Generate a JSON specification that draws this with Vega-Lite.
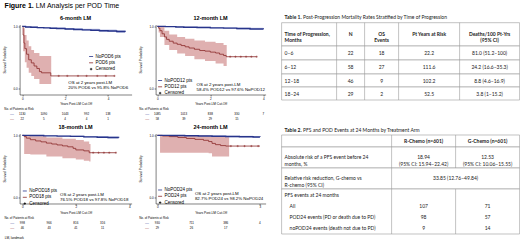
{
  "$schema": "https://vega.github.io/schema/vega-lite/v6.json",
  "padding": {"left": 1.6, "top": 1.5, "right": 0, "bottom": 0},
  "config": {
    "font": "Liberation Sans",
    "view": {"stroke": null},
    "axis": {"grid": false, "domainColor": "#000", "domainWidth": 0.5, "tickColor": "#000", "tickWidth": 0.5, "tickSize": 1.5, "labelFontSize": 3, "labelColor": "#000", "labelPadding": 1, "titleFontSize": 3.2, "titleFontWeight": "normal", "titleColor": "#000", "titlePadding": 1.5, "labelFlush": false, "labelOverlap": false},
    "axisY": {"titlePadding": 6.5},
    "title": {"fontSize": 5.5, "fontWeight": "bold", "color": "#000", "offset": 2},
    "text": {"color": "#000"},
    "legend": {"labelColor": "#000", "labelFont": "Liberation Sans"}
  },
  "datasets": {
    "l6": [
      {"g": "NoPOD6 pts", "t": 0, "s": 1}, {"g": "NoPOD6 pts", "t": 0.15, "s": 0.99}, {"g": "NoPOD6 pts", "t": 0.4, "s": 0.985}, {"g": "NoPOD6 pts", "t": 0.7, "s": 0.98}, {"g": "NoPOD6 pts", "t": 1.0, "s": 0.975}, {"g": "NoPOD6 pts", "t": 1.3, "s": 0.97}, {"g": "NoPOD6 pts", "t": 1.6, "s": 0.965}, {"g": "NoPOD6 pts", "t": 2.0, "s": 0.958}, {"g": "NoPOD6 pts", "t": 2.4, "s": 0.95}, {"g": "NoPOD6 pts", "t": 2.8, "s": 0.944}, {"g": "NoPOD6 pts", "t": 3.2, "s": 0.937}, {"g": "NoPOD6 pts", "t": 3.6, "s": 0.93}, {"g": "NoPOD6 pts", "t": 4.0, "s": 0.924}, {"g": "NoPOD6 pts", "t": 4.4, "s": 0.918}, {"g": "NoPOD6 pts", "t": 4.8, "s": 0.912},
      {"g": "POD6 pts", "t": 0, "s": 1}, {"g": "POD6 pts", "t": 0.04, "s": 0.86}, {"g": "POD6 pts", "t": 0.08, "s": 0.73}, {"g": "POD6 pts", "t": 0.12, "s": 0.64}, {"g": "POD6 pts", "t": 0.2, "s": 0.55}, {"g": "POD6 pts", "t": 0.3, "s": 0.46}, {"g": "POD6 pts", "t": 0.42, "s": 0.41}, {"g": "POD6 pts", "t": 0.55, "s": 0.36}, {"g": "POD6 pts", "t": 0.68, "s": 0.32}, {"g": "POD6 pts", "t": 0.8, "s": 0.27}, {"g": "POD6 pts", "t": 0.9, "s": 0.25}, {"g": "POD6 pts", "t": 1.33, "s": 0.2}, {"g": "POD6 pts", "t": 4.3, "s": 0.2}
    ],
    "b6": [
      {"g": "NoPOD6 pts", "t": 0, "lo": 1, "hi": 1}, {"g": "NoPOD6 pts", "t": 0.15, "lo": 0.982, "hi": 0.997}, {"g": "NoPOD6 pts", "t": 0.7, "lo": 0.97, "hi": 0.99}, {"g": "NoPOD6 pts", "t": 1.3, "lo": 0.958, "hi": 0.982}, {"g": "NoPOD6 pts", "t": 2.0, "lo": 0.944, "hi": 0.972}, {"g": "NoPOD6 pts", "t": 2.8, "lo": 0.928, "hi": 0.96}, {"g": "NoPOD6 pts", "t": 3.6, "lo": 0.912, "hi": 0.948}, {"g": "NoPOD6 pts", "t": 4.4, "lo": 0.898, "hi": 0.938}, {"g": "NoPOD6 pts", "t": 4.8, "lo": 0.89, "hi": 0.934},
      {"g": "POD6 pts", "t": 0, "lo": 1, "hi": 1}, {"g": "POD6 pts", "t": 0.04, "lo": 0.6, "hi": 0.97}, {"g": "POD6 pts", "t": 0.12, "lo": 0.42, "hi": 0.86}, {"g": "POD6 pts", "t": 0.2, "lo": 0.33, "hi": 0.77}, {"g": "POD6 pts", "t": 0.3, "lo": 0.25, "hi": 0.68}, {"g": "POD6 pts", "t": 0.42, "lo": 0.2, "hi": 0.62}, {"g": "POD6 pts", "t": 0.55, "lo": 0.15, "hi": 0.57}, {"g": "POD6 pts", "t": 0.8, "lo": 0.07, "hi": 0.52}, {"g": "POD6 pts", "t": 1.35, "lo": 0.07, "hi": 0.52}
    ],
    "c6": [
      {"g": "POD6 pts", "t": 1.7, "s": 0.2}, {"g": "POD6 pts", "t": 2.1, "s": 0.2}, {"g": "POD6 pts", "t": 2.6, "s": 0.2}, {"g": "POD6 pts", "t": 3.0, "s": 0.2}, {"g": "POD6 pts", "t": 3.5, "s": 0.2}, {"g": "POD6 pts", "t": 3.9, "s": 0.2}, {"g": "POD6 pts", "t": 4.3, "s": 0.2}
    ],
    "r6": [
      {"row": "a", "t": 0, "n": "1130"}, {"row": "a", "t": 1, "n": "1090"}, {"row": "a", "t": 2, "n": "1043"}, {"row": "a", "t": 3, "n": "992"}, {"row": "a", "t": 4, "n": "138"},
      {"row": "b", "t": 0, "n": "22"}, {"row": "b", "t": 1, "n": "5"}, {"row": "b", "t": 2, "n": "4"}, {"row": "b", "t": 3, "n": "4"}, {"row": "b", "t": 4, "n": "1"}
    ],
    "l12": [
      {"g": "NoPOD12 pts", "t": 0, "s": 1}, {"g": "NoPOD12 pts", "t": 0.3, "s": 0.995}, {"g": "NoPOD12 pts", "t": 0.7, "s": 0.99}, {"g": "NoPOD12 pts", "t": 1.0, "s": 0.986}, {"g": "NoPOD12 pts", "t": 1.5, "s": 0.981}, {"g": "NoPOD12 pts", "t": 2.0, "s": 0.976}, {"g": "NoPOD12 pts", "t": 2.5, "s": 0.971}, {"g": "NoPOD12 pts", "t": 3.0, "s": 0.965}, {"g": "NoPOD12 pts", "t": 3.5, "s": 0.958}, {"g": "NoPOD12 pts", "t": 4.0, "s": 0.952},
      {"g": "POD12 pts", "t": 0, "s": 1}, {"g": "POD12 pts", "t": 0.05, "s": 0.97}, {"g": "POD12 pts", "t": 0.1, "s": 0.93}, {"g": "POD12 pts", "t": 0.18, "s": 0.88}, {"g": "POD12 pts", "t": 0.27, "s": 0.83}, {"g": "POD12 pts", "t": 0.35, "s": 0.79}, {"g": "POD12 pts", "t": 0.45, "s": 0.76}, {"g": "POD12 pts", "t": 0.6, "s": 0.73}, {"g": "POD12 pts", "t": 0.75, "s": 0.71}, {"g": "POD12 pts", "t": 0.9, "s": 0.69}, {"g": "POD12 pts", "t": 1.05, "s": 0.67}, {"g": "POD12 pts", "t": 1.2, "s": 0.65}, {"g": "POD12 pts", "t": 1.4, "s": 0.63}, {"g": "POD12 pts", "t": 1.6, "s": 0.61}, {"g": "POD12 pts", "t": 1.8, "s": 0.6}, {"g": "POD12 pts", "t": 2.0, "s": 0.584}, {"g": "POD12 pts", "t": 2.2, "s": 0.57}, {"g": "POD12 pts", "t": 2.35, "s": 0.55}, {"g": "POD12 pts", "t": 2.5, "s": 0.53}, {"g": "POD12 pts", "t": 2.6, "s": 0.51}, {"g": "POD12 pts", "t": 3.75, "s": 0.51}
    ],
    "b12": [
      {"g": "NoPOD12 pts", "t": 0, "lo": 1, "hi": 1}, {"g": "NoPOD12 pts", "t": 0.3, "lo": 0.988, "hi": 0.999}, {"g": "NoPOD12 pts", "t": 1.0, "lo": 0.977, "hi": 0.993}, {"g": "NoPOD12 pts", "t": 2.0, "lo": 0.965, "hi": 0.987}, {"g": "NoPOD12 pts", "t": 3.0, "lo": 0.95, "hi": 0.978}, {"g": "NoPOD12 pts", "t": 4.0, "lo": 0.935, "hi": 0.968},
      {"g": "POD12 pts", "t": 0, "lo": 1, "hi": 1}, {"g": "POD12 pts", "t": 0.05, "lo": 0.9, "hi": 1}, {"g": "POD12 pts", "t": 0.1, "lo": 0.83, "hi": 0.99}, {"g": "POD12 pts", "t": 0.27, "lo": 0.7, "hi": 0.93}, {"g": "POD12 pts", "t": 0.45, "lo": 0.62, "hi": 0.87}, {"g": "POD12 pts", "t": 0.75, "lo": 0.56, "hi": 0.83}, {"g": "POD12 pts", "t": 1.05, "lo": 0.52, "hi": 0.8}, {"g": "POD12 pts", "t": 1.4, "lo": 0.47, "hi": 0.77}, {"g": "POD12 pts", "t": 1.8, "lo": 0.44, "hi": 0.75}, {"g": "POD12 pts", "t": 2.2, "lo": 0.4, "hi": 0.73}, {"g": "POD12 pts", "t": 2.5, "lo": 0.36, "hi": 0.7}, {"g": "POD12 pts", "t": 2.62, "lo": 0.36, "hi": 0.7}
    ],
    "c12": [
      {"g": "POD12 pts", "t": 2.75, "s": 0.51}, {"g": "POD12 pts", "t": 2.95, "s": 0.51}, {"g": "POD12 pts", "t": 3.15, "s": 0.51}, {"g": "POD12 pts", "t": 3.35, "s": 0.51}, {"g": "POD12 pts", "t": 3.55, "s": 0.51}, {"g": "POD12 pts", "t": 3.75, "s": 0.51}
    ],
    "r12": [
      {"row": "a", "t": 0, "n": "1085"}, {"row": "a", "t": 1, "n": "1013"}, {"row": "a", "t": 2, "n": "838"}, {"row": "a", "t": 3, "n": "330"}, {"row": "a", "t": 4, "n": "7"},
      {"row": "b", "t": 0, "n": "58"}, {"row": "b", "t": 1, "n": "39"}, {"row": "b", "t": 2, "n": "29"}, {"row": "b", "t": 3, "n": "15"}
    ],
    "l18": [
      {"g": "NoPOD18 pts", "t": 0, "s": 1}, {"g": "NoPOD18 pts", "t": 0.3, "s": 0.997}, {"g": "NoPOD18 pts", "t": 0.8, "s": 0.992}, {"g": "NoPOD18 pts", "t": 1.3, "s": 0.988}, {"g": "NoPOD18 pts", "t": 1.8, "s": 0.983}, {"g": "NoPOD18 pts", "t": 2.3, "s": 0.976}, {"g": "NoPOD18 pts", "t": 2.8, "s": 0.97}, {"g": "NoPOD18 pts", "t": 3.2, "s": 0.965}, {"g": "NoPOD18 pts", "t": 3.6, "s": 0.96},
      {"g": "POD18 pts", "t": 0, "s": 1}, {"g": "POD18 pts", "t": 0.07, "s": 0.98}, {"g": "POD18 pts", "t": 0.15, "s": 0.955}, {"g": "POD18 pts", "t": 0.3, "s": 0.93}, {"g": "POD18 pts", "t": 0.5, "s": 0.91}, {"g": "POD18 pts", "t": 0.7, "s": 0.895}, {"g": "POD18 pts", "t": 0.9, "s": 0.875}, {"g": "POD18 pts", "t": 1.1, "s": 0.86}, {"g": "POD18 pts", "t": 1.3, "s": 0.845}, {"g": "POD18 pts", "t": 1.5, "s": 0.83}, {"g": "POD18 pts", "t": 1.7, "s": 0.815}, {"g": "POD18 pts", "t": 1.9, "s": 0.79}, {"g": "POD18 pts", "t": 2.0, "s": 0.765}, {"g": "POD18 pts", "t": 2.3, "s": 0.75}, {"g": "POD18 pts", "t": 2.5, "s": 0.72}, {"g": "POD18 pts", "t": 3.5, "s": 0.72}
    ],
    "b18": [
      {"g": "NoPOD18 pts", "t": 0, "lo": 1, "hi": 1}, {"g": "NoPOD18 pts", "t": 0.3, "lo": 0.99, "hi": 1}, {"g": "NoPOD18 pts", "t": 1.3, "lo": 0.978, "hi": 0.996}, {"g": "NoPOD18 pts", "t": 2.3, "lo": 0.964, "hi": 0.988}, {"g": "NoPOD18 pts", "t": 3.2, "lo": 0.95, "hi": 0.98}, {"g": "NoPOD18 pts", "t": 3.6, "lo": 0.944, "hi": 0.976},
      {"g": "POD18 pts", "t": 0, "lo": 1, "hi": 1}, {"g": "POD18 pts", "t": 0.07, "lo": 0.7, "hi": 1}, {"g": "POD18 pts", "t": 0.3, "lo": 0.69, "hi": 0.985}, {"g": "POD18 pts", "t": 0.9, "lo": 0.66, "hi": 0.965}, {"g": "POD18 pts", "t": 1.5, "lo": 0.63, "hi": 0.945}, {"g": "POD18 pts", "t": 2.0, "lo": 0.61, "hi": 0.925}, {"g": "POD18 pts", "t": 2.3, "lo": 0.59, "hi": 0.9}, {"g": "POD18 pts", "t": 2.5, "lo": 0.58, "hi": 0.86}, {"g": "POD18 pts", "t": 2.55, "lo": 0.58, "hi": 0.86}
    ],
    "c18": [
      {"g": "POD18 pts", "t": 2.65, "s": 0.72}, {"g": "POD18 pts", "t": 2.85, "s": 0.72}, {"g": "POD18 pts", "t": 3.05, "s": 0.72}, {"g": "POD18 pts", "t": 3.25, "s": 0.72}, {"g": "POD18 pts", "t": 3.5, "s": 0.72}
    ],
    "r18": [
      {"row": "a", "t": 0, "n": "998"}, {"row": "a", "t": 1, "n": "966"}, {"row": "a", "t": 2, "n": "816"}, {"row": "a", "t": 3, "n": "316"},
      {"row": "b", "t": 0, "n": "46"}, {"row": "b", "t": 1, "n": "43"}, {"row": "b", "t": 2, "n": "41"}, {"row": "b", "t": 3, "n": "11"}
    ],
    "l24": [
      {"g": "NoPOD24 pts", "t": 0, "s": 1}, {"g": "NoPOD24 pts", "t": 0.4, "s": 0.997}, {"g": "NoPOD24 pts", "t": 0.8, "s": 0.993}, {"g": "NoPOD24 pts", "t": 1.2, "s": 0.989}, {"g": "NoPOD24 pts", "t": 1.6, "s": 0.986}, {"g": "NoPOD24 pts", "t": 2.0, "s": 0.982}, {"g": "NoPOD24 pts", "t": 2.4, "s": 0.978}, {"g": "NoPOD24 pts", "t": 2.8, "s": 0.974}, {"g": "NoPOD24 pts", "t": 3.0, "s": 0.972},
      {"g": "POD24 pts", "t": 0, "s": 1}, {"g": "POD24 pts", "t": 0.15, "s": 0.99}, {"g": "POD24 pts", "t": 0.35, "s": 0.98}, {"g": "POD24 pts", "t": 0.6, "s": 0.965}, {"g": "POD24 pts", "t": 0.85, "s": 0.95}, {"g": "POD24 pts", "t": 1.1, "s": 0.935}, {"g": "POD24 pts", "t": 1.35, "s": 0.92}, {"g": "POD24 pts", "t": 1.5, "s": 0.9}, {"g": "POD24 pts", "t": 1.6, "s": 0.87}, {"g": "POD24 pts", "t": 1.7, "s": 0.85}, {"g": "POD24 pts", "t": 1.85, "s": 0.835}, {"g": "POD24 pts", "t": 2.0, "s": 0.827}, {"g": "POD24 pts", "t": 3.0, "s": 0.827}
    ],
    "b24": [
      {"g": "NoPOD24 pts", "t": 0, "lo": 1, "hi": 1}, {"g": "NoPOD24 pts", "t": 0.4, "lo": 0.99, "hi": 1}, {"g": "NoPOD24 pts", "t": 1.2, "lo": 0.98, "hi": 0.997}, {"g": "NoPOD24 pts", "t": 2.0, "lo": 0.97, "hi": 0.992}, {"g": "NoPOD24 pts", "t": 2.8, "lo": 0.96, "hi": 0.987}, {"g": "NoPOD24 pts", "t": 3.0, "lo": 0.958, "hi": 0.986},
      {"g": "POD24 pts", "t": 0, "lo": 1, "hi": 1}, {"g": "POD24 pts", "t": 0.08, "lo": 0.72, "hi": 1}, {"g": "POD24 pts", "t": 1.5, "lo": 0.71, "hi": 0.995}, {"g": "POD24 pts", "t": 1.6, "lo": 0.66, "hi": 0.985}, {"g": "POD24 pts", "t": 2.1, "lo": 0.66, "hi": 0.985}
    ],
    "c24": [
      {"g": "POD24 pts", "t": 2.15, "s": 0.827}, {"g": "POD24 pts", "t": 2.35, "s": 0.827}, {"g": "POD24 pts", "t": 2.55, "s": 0.827}, {"g": "POD24 pts", "t": 2.75, "s": 0.827}, {"g": "POD24 pts", "t": 2.95, "s": 0.827}
    ],
    "r24": [
      {"row": "a", "t": 0, "n": "930"}, {"row": "a", "t": 1, "n": "711"}, {"row": "a", "t": 2, "n": "386"}, {"row": "a", "t": 3, "n": "4"},
      {"row": "b", "t": 0, "n": "29"}, {"row": "b", "t": 1, "n": "26"}, {"row": "b", "t": 2, "n": "17"}
    ],
    "t1rows": [{"r0": -1.5, "r1": -0.5}, {"r0": -0.5, "r1": 0.5}, {"r0": 0.5, "r1": 1.5}, {"r0": 1.5, "r1": 2.5}, {"r0": 2.5, "r1": 3.5}],
    "t1cols": [{"c": 0.5}, {"c": 1.5}, {"c": 2.5}, {"c": 3.5}],
    "t1headL": [{"r": -1, "text": "Time of Progression,\nMonths"}],
    "t1headC": [{"r": -1, "c": 1, "text": "N"}, {"r": -1, "c": 2, "text": "OS\nEvents"}, {"r": -1, "c": 3, "text": "Pt Years at Risk"}, {"r": -1, "c": 4, "text": "Deaths/100 Pt-Yrs\n(95% CI)"}],
    "t1bodyL": [{"r": 0, "text": "0–6"}, {"r": 1, "text": "6–12"}, {"r": 2, "text": "12–18"}, {"r": 3, "text": "18–24"}],
    "t1bodyC": [
      {"r": 0, "c": 1, "text": "22"}, {"r": 0, "c": 2, "text": "18"}, {"r": 0, "c": 3, "text": "22.2"}, {"r": 0, "c": 4, "text": "81.0 (51.2–100)"},
      {"r": 1, "c": 1, "text": "58"}, {"r": 1, "c": 2, "text": "27"}, {"r": 1, "c": 3, "text": "111.6"}, {"r": 1, "c": 4, "text": "24.2 (16.6–35.3)"},
      {"r": 2, "c": 1, "text": "46"}, {"r": 2, "c": 2, "text": "9"}, {"r": 2, "c": 3, "text": "102.2"}, {"r": 2, "c": 4, "text": "8.8 (4.6–16.9)"},
      {"r": 3, "c": 1, "text": "29"}, {"r": 3, "c": 2, "text": "2"}, {"r": 3, "c": 3, "text": "52.5"}, {"r": 3, "c": 4, "text": "3.8 (1–15.2)"}
    ],
    "t2rows": [{"r0": -1.5, "r1": -0.5}, {"r0": -0.5, "r1": 0.5}, {"r0": 0.5, "r1": 1.5}, {"r0": 1.5, "r1": 5.5}],
    "t2cols": [{"c": 0.5, "r0": -1.5, "r1": 5.5}, {"c": 1.5, "r0": -1.5, "r1": 0.5}, {"c": 1.5, "r0": 1.5, "r1": 5.5}],
    "t2headC": [{"r": -1, "c": 1, "text": "R-Chemo (n=601)"}, {"r": -1, "c": 2, "text": "G-Chemo (n=601)"}],
    "t2bodyL": [{"r": 0, "text": "Absolute risk of a PFS event before 24\nmonths, %"}, {"r": 1, "text": "Relative risk reduction,  G-chemo vs\nR-chemo (95% CI)"}, {"r": 2, "text": "PFS events at 24 months"}],
    "t2bodyI": [{"r": 3, "text": "All"}, {"r": 4, "text": "POD24 events (PD or death due to PD)"}, {"r": 5, "text": "noPOD24 events (death not due to PD)"}],
    "t2bodyC": [
      {"r": 0, "c": 1, "text": "18.94\n(95% CI: 15.94–22.42)"}, {"r": 0, "c": 2, "text": "12.53\n(95% CI: 10.06–15.55)"},
      {"r": 1, "c": 1.5, "text": "33.85 (12.76–49.84)"},
      {"r": 3, "c": 1, "text": "107"}, {"r": 3, "c": 2, "text": "71"},
      {"r": 4, "c": 1, "text": "98"}, {"r": 4, "c": 2, "text": "57"},
      {"r": 5, "c": 1, "text": "9"}, {"r": 5, "c": 2, "text": "14"}
    ]
  },
  "columns": 3,
  "bounds": "flush",
  "align": "each",
  "spacing": {"row": 12.5, "column": 16},
  "resolve": {"scale": {"color": "independent"}, "legend": {"color": "independent"}},
  "concat": [
    {
      "width": 112, "height": 70,
      "title": "6-month LM",
      "layer": [
        {"data": {"name": "b6"}, "transform": [{"filter": "datum.g === 'POD6 pts'"}],
         "mark": {"type": "area", "interpolate": "step-after", "color": "#dfb0b0"},
         "encoding": {
           "x": {"field": "t", "type": "quantitative", "title": "Years Post-LM Cut-Off", "scale": {"domain": [-0.125, 5.1], "nice": false, "zero": false}, "axis": {"values": [0, 1, 2, 3, 4, 5]}},
           "y": {"field": "lo", "type": "quantitative", "title": "Survival Probability", "scale": {"domain": [-0.1, 1.03], "nice": false, "zero": false}, "axis": {"values": [0, 0.2, 0.4, 0.6, 0.8, 1], "format": ".1f"}},
           "y2": {"field": "hi"}}},
        {"data": {"name": "b6"}, "transform": [{"filter": "datum.g === 'NoPOD6 pts'"}],
         "mark": {"type": "area", "interpolate": "step-after", "color": "#c2c8e8"},
         "encoding": {"x": {"field": "t", "type": "quantitative", "title": "Years Post-LM Cut-Off"}, "y": {"field": "lo", "type": "quantitative", "title": "Survival Probability"}, "y2": {"field": "hi"}}},
        {"data": {"name": "l6"}, "transform": [{"filter": "datum.g === 'POD6 pts'"}],
         "mark": {"type": "line", "interpolate": "step-after", "strokeWidth": 0.8},
         "encoding": {"x": {"field": "t", "type": "quantitative", "title": "Years Post-LM Cut-Off"}, "y": {"field": "s", "type": "quantitative", "title": "Survival Probability"},
           "color": {"field": "g", "type": "nominal", "scale": {"domain": ["NoPOD6 pts", "POD6 pts", "Censored"], "range": ["#27348b", "#8b2b2b", "#000000"]},
             "legend": {"orient": "none", "legendX": 69, "legendY": 29.5, "title": null, "symbolType": "stroke", "symbolSize": 16, "symbolStrokeWidth": 0.8, "labelFontSize": 4.5, "labelOffset": 2, "rowPadding": 0.3, "padding": 0,
               "encode": {"symbols": {"update": {"shape": {"signal": "datum.value === 'Censored' ? 'M-0.6,0H0.6M0,-0.6V0.6' : 'M-1,0H1'"}}}}}}}},
        {"data": {"name": "l6"}, "transform": [{"filter": "datum.g === 'NoPOD6 pts'"}],
         "mark": {"type": "line", "interpolate": "step-after", "strokeWidth": 1.4},
         "encoding": {"x": {"field": "t", "type": "quantitative", "title": "Years Post-LM Cut-Off"}, "y": {"field": "s", "type": "quantitative", "title": "Survival Probability"}, "color": {"field": "g", "type": "nominal"}}},
        {"data": {"name": "c6"},
         "mark": {"type": "point", "shape": "M-1,0H1M0,-1V1", "size": 5, "strokeWidth": 0.5, "opacity": 1},
         "encoding": {"x": {"field": "t", "type": "quantitative", "title": "Years Post-LM Cut-Off"}, "y": {"field": "s", "type": "quantitative", "title": "Survival Probability"}, "color": {"field": "g", "type": "nominal"}}},
        {"data": {"values": [{}]},
         "mark": {"type": "text", "align": "left", "baseline": "top", "fontSize": 4.4, "lineBreak": "\n", "lineHeight": 5.2},
         "encoding": {"x": {"datum": 2.15}, "y": {"datum": 0.12}, "text": {"value": "OS at 2 years post-LM\n20% POD6 vs 95.8% NoPOD6"}}}
      ]
    },
    {
      "width": 110, "height": 70,
      "title": "12-month LM",
      "layer": [
        {"data": {"name": "b12"}, "transform": [{"filter": "datum.g === 'POD12 pts'"}],
         "mark": {"type": "area", "interpolate": "step-after", "color": "#dfb0b0"},
         "encoding": {
           "x": {"field": "t", "type": "quantitative", "title": "Years Post-LM Cut-Off", "scale": {"domain": [-0.064, 4.087], "nice": false, "zero": false}, "axis": {"values": [0, 1, 2, 3, 4]}},
           "y": {"field": "lo", "type": "quantitative", "title": "Survival Probability", "scale": {"domain": [-0.1, 1.03], "nice": false, "zero": false}, "axis": {"values": [0, 0.2, 0.4, 0.6, 0.8, 1], "format": ".1f"}},
           "y2": {"field": "hi"}}},
        {"data": {"name": "b12"}, "transform": [{"filter": "datum.g === 'NoPOD12 pts'"}],
         "mark": {"type": "area", "interpolate": "step-after", "color": "#c2c8e8"},
         "encoding": {"x": {"field": "t", "type": "quantitative", "title": "Years Post-LM Cut-Off"}, "y": {"field": "lo", "type": "quantitative", "title": "Survival Probability"}, "y2": {"field": "hi"}}},
        {"data": {"name": "l12"}, "transform": [{"filter": "datum.g === 'POD12 pts'"}],
         "mark": {"type": "line", "interpolate": "step-after", "strokeWidth": 0.8},
         "encoding": {"x": {"field": "t", "type": "quantitative", "title": "Years Post-LM Cut-Off"}, "y": {"field": "s", "type": "quantitative", "title": "Survival Probability"},
           "color": {"field": "g", "type": "nominal", "scale": {"domain": ["NoPOD12 pts", "POD12 pts", "Censored"], "range": ["#27348b", "#8b2b2b", "#000000"]},
             "legend": {"orient": "none", "legendX": 2, "legendY": 53.5, "title": null, "symbolType": "stroke", "symbolSize": 16, "symbolStrokeWidth": 0.8, "labelFontSize": 4.5, "labelOffset": 2, "rowPadding": 0.3, "padding": 0,
               "encode": {"symbols": {"update": {"shape": {"signal": "datum.value === 'Censored' ? 'M-0.6,0H0.6M0,-0.6V0.6' : 'M-1,0H1'"}}}}}}}},
        {"data": {"name": "l12"}, "transform": [{"filter": "datum.g === 'NoPOD12 pts'"}],
         "mark": {"type": "line", "interpolate": "step-after", "strokeWidth": 1.4},
         "encoding": {"x": {"field": "t", "type": "quantitative", "title": "Years Post-LM Cut-Off"}, "y": {"field": "s", "type": "quantitative", "title": "Survival Probability"}, "color": {"field": "g", "type": "nominal"}}},
        {"data": {"name": "c12"},
         "mark": {"type": "point", "shape": "M-1,0H1M0,-1V1", "size": 5, "strokeWidth": 0.5, "opacity": 1},
         "encoding": {"x": {"field": "t", "type": "quantitative", "title": "Years Post-LM Cut-Off"}, "y": {"field": "s", "type": "quantitative", "title": "Survival Probability"}, "color": {"field": "g", "type": "nominal"}}},
        {"data": {"values": [{}]},
         "mark": {"type": "text", "align": "left", "baseline": "top", "fontSize": 4.4, "lineBreak": "\n", "lineHeight": 5.2},
         "encoding": {"x": {"datum": 1.48}, "y": {"datum": 0.09}, "text": {"value": "OS at 2 years post-LM\n58.4% POD12 vs 97.6% NoPOD12"}}}
      ]
    },
    {
      "width": 238, "height": 70,
      "layer": [
        {"data": {"name": "t1rows"}, "mark": {"type": "rect", "fill": "#ffffff", "stroke": "#9a9a9a", "strokeWidth": 0.6},
         "encoding": {"x": {"datum": -0.5, "scale": {"domain": [-0.5, 0.5, 1.5, 2.5, 3.5, 4.5], "range": [0, 55, 83, 117, 178, 238], "nice": false, "zero": false}, "axis": null}, "x2": {"datum": 4.5},
           "y": {"field": "r0", "type": "quantitative", "scale": {"domain": [-2, -1.5, -0.5, 0.5, 1.5, 2.5, 3.5], "range": [-7.5, -1.8, 21.5, 35.5, 49.5, 62.5, 75.5], "nice": false, "zero": false}, "axis": null}, "y2": {"field": "r1"}}},
        {"data": {"name": "t1cols"}, "mark": {"type": "rule", "stroke": "#9a9a9a", "strokeWidth": 0.6},
         "encoding": {"x": {"field": "c", "type": "quantitative"}, "y": {"datum": -1.5}, "y2": {"datum": 3.5}}},
        {"data": {"values": [{}]}, "mark": {"type": "text", "font": "Liberation Sans", "fontSize": 7, "fontWeight": "bold", "align": "left", "baseline": "middle", "color": "#000"},
         "encoding": {"x": {"datum": -5.536}, "y": {"datum": -2.965}, "text": {"value": "Figure 1."}}},
        {"data": {"values": [{}]}, "mark": {"type": "text", "font": "Liberation Sans", "fontSize": 7, "align": "left", "baseline": "middle", "color": "#000"},
         "encoding": {"x": {"datum": -4.971}, "y": {"datum": -2.965}, "text": {"value": "LM Analysis per POD Time"}}},
        {"data": {"values": [{}]}, "mark": {"type": "text", "font": "Lato", "fontSize": 5, "fontWeight": "bold", "align": "left", "dx": 3, "color": "#222"},
         "encoding": {"x": {"datum": -0.5}, "y": {"datum": -2}, "text": {"value": "Table 1."}}},
        {"data": {"values": [{}]}, "mark": {"type": "text", "font": "Lato", "fontSize": 5, "align": "left", "dx": 21.5, "color": "#222"},
         "encoding": {"x": {"datum": -0.5}, "y": {"datum": -2}, "text": {"value": "Post-Progression Mortality Rates Stratified by Time of Progression"}}},
        {"data": {"name": "t1headL"}, "mark": {"type": "text", "font": "Lato", "fontSize": 5, "fontWeight": "bold", "align": "left", "dx": 3, "lineBreak": "\n", "lineHeight": 6, "color": "#222"},
         "encoding": {"x": {"datum": -0.5}, "y": {"field": "r", "type": "quantitative"}, "text": {"field": "text"}}},
        {"data": {"name": "t1headC"}, "mark": {"type": "text", "font": "Lato", "fontSize": 5, "fontWeight": "bold", "lineBreak": "\n", "lineHeight": 6, "color": "#222"},
         "encoding": {"x": {"field": "c", "type": "quantitative"}, "y": {"field": "r", "type": "quantitative"}, "text": {"field": "text"}}},
        {"data": {"name": "t1bodyL"}, "mark": {"type": "text", "font": "Lato", "fontSize": 5, "align": "left", "dx": 3, "color": "#222"},
         "encoding": {"x": {"datum": -0.5}, "y": {"field": "r", "type": "quantitative"}, "text": {"field": "text"}}},
        {"data": {"name": "t1bodyC"}, "mark": {"type": "text", "font": "Lato", "fontSize": 5, "color": "#222"},
         "encoding": {"x": {"field": "c", "type": "quantitative"}, "y": {"field": "r", "type": "quantitative"}, "text": {"field": "text"}}}
      ]
    },
    {
      "width": 120, "height": 14,
      "layer": [
        {"data": {"name": "r6"}, "mark": {"type": "text", "fontSize": 3},
         "encoding": {"x": {"field": "t", "type": "quantitative", "scale": {"domain": [-0.125, 5.473], "nice": false, "zero": false}, "axis": null},
           "y": {"field": "row", "type": "nominal", "scale": {"domain": ["hdr", "a", "b"], "paddingInner": 0, "paddingOuter": 0}, "axis": null},
           "text": {"field": "n"}}},
        {"data": {"values": [{}]}, "mark": {"type": "text", "fontSize": 3, "align": "left"},
         "encoding": {"x": {"datum": -0.84}, "y": {"datum": "hdr"}, "text": {"value": "No. of Patients at Risk"}}},
        {"data": {"values": [{}]}, "mark": {"type": "text", "fontSize": 4, "color": "#27348b"},
         "encoding": {"x": {"datum": -0.48}, "y": {"datum": "a"}, "text": {"value": "—"}}},
        {"data": {"values": [{}]}, "mark": {"type": "text", "fontSize": 4, "color": "#8b2b2b"},
         "encoding": {"x": {"datum": -0.48}, "y": {"datum": "b"}, "text": {"value": "—"}}}
      ]
    },
    {
      "width": 110, "height": 14,
      "layer": [
        {"data": {"name": "r12"}, "mark": {"type": "text", "fontSize": 3},
         "encoding": {"x": {"field": "t", "type": "quantitative", "scale": {"domain": [-0.064, 4.087], "nice": false, "zero": false}, "axis": null},
           "y": {"field": "row", "type": "nominal", "scale": {"domain": ["hdr", "a", "b"], "paddingInner": 0, "paddingOuter": 0}, "axis": null},
           "text": {"field": "n"}}},
        {"data": {"values": [{}]}, "mark": {"type": "text", "fontSize": 3, "align": "left"},
         "encoding": {"x": {"datum": -0.68}, "y": {"datum": "hdr"}, "text": {"value": "No. of Patients at Risk"}}},
        {"data": {"values": [{}]}, "mark": {"type": "text", "fontSize": 4, "color": "#27348b"},
         "encoding": {"x": {"datum": -0.38}, "y": {"datum": "a"}, "text": {"value": "—"}}},
        {"data": {"values": [{}]}, "mark": {"type": "text", "fontSize": 4, "color": "#8b2b2b"},
         "encoding": {"x": {"datum": -0.38}, "y": {"datum": "b"}, "text": {"value": "—"}}}
      ]
    },
    {
      "width": 10, "height": 14,
      "data": {"values": [{}]},
      "mark": {"type": "text"},
      "encoding": {"text": {"value": ""}}
    },
    {
      "width": 112, "height": 70,
      "title": "18-month LM",
      "layer": [
        {"data": {"name": "b18"}, "transform": [{"filter": "datum.g === 'POD18 pts'"}],
         "mark": {"type": "area", "interpolate": "step-after", "color": "#dfb0b0"},
         "encoding": {
           "x": {"field": "t", "type": "quantitative", "title": "Years Post-LM Cut-Off", "scale": {"domain": [-0.101, 4.086], "nice": false, "zero": false}, "axis": {"values": [0, 1, 2, 3, 4]}},
           "y": {"field": "lo", "type": "quantitative", "title": "Survival Probability", "scale": {"domain": [-0.1, 1.03], "nice": false, "zero": false}, "axis": {"values": [0, 0.2, 0.4, 0.6, 0.8, 1], "format": ".1f"}},
           "y2": {"field": "hi"}}},
        {"data": {"name": "b18"}, "transform": [{"filter": "datum.g === 'NoPOD18 pts'"}],
         "mark": {"type": "area", "interpolate": "step-after", "color": "#c2c8e8"},
         "encoding": {"x": {"field": "t", "type": "quantitative", "title": "Years Post-LM Cut-Off"}, "y": {"field": "lo", "type": "quantitative", "title": "Survival Probability"}, "y2": {"field": "hi"}}},
        {"data": {"name": "l18"}, "transform": [{"filter": "datum.g === 'POD18 pts'"}],
         "mark": {"type": "line", "interpolate": "step-after", "strokeWidth": 0.8},
         "encoding": {"x": {"field": "t", "type": "quantitative", "title": "Years Post-LM Cut-Off"}, "y": {"field": "s", "type": "quantitative", "title": "Survival Probability"},
           "color": {"field": "g", "type": "nominal", "scale": {"domain": ["NoPOD18 pts", "POD18 pts", "Censored"], "range": ["#27348b", "#8b2b2b", "#000000"]},
             "legend": {"orient": "none", "legendX": 2.7, "legendY": 55, "title": null, "symbolType": "stroke", "symbolSize": 16, "symbolStrokeWidth": 0.8, "labelFontSize": 4.5, "labelOffset": 2, "rowPadding": 0.3, "padding": 0,
               "encode": {"symbols": {"update": {"shape": {"signal": "datum.value === 'Censored' ? 'M-0.6,0H0.6M0,-0.6V0.6' : 'M-1,0H1'"}}}}}}}},
        {"data": {"name": "l18"}, "transform": [{"filter": "datum.g === 'NoPOD18 pts'"}],
         "mark": {"type": "line", "interpolate": "step-after", "strokeWidth": 1.4},
         "encoding": {"x": {"field": "t", "type": "quantitative", "title": "Years Post-LM Cut-Off"}, "y": {"field": "s", "type": "quantitative", "title": "Survival Probability"}, "color": {"field": "g", "type": "nominal"}}},
        {"data": {"name": "c18"},
         "mark": {"type": "point", "shape": "M-1,0H1M0,-1V1", "size": 5, "strokeWidth": 0.5, "opacity": 1},
         "encoding": {"x": {"field": "t", "type": "quantitative", "title": "Years Post-LM Cut-Off"}, "y": {"field": "s", "type": "quantitative", "title": "Survival Probability"}, "color": {"field": "g", "type": "nominal"}}},
        {"data": {"values": [{}]},
         "mark": {"type": "text", "align": "left", "baseline": "top", "fontSize": 4.4, "lineBreak": "\n", "lineHeight": 5.2},
         "encoding": {"x": {"datum": 1.41}, "y": {"datum": 0.074}, "text": {"value": "OS at 2 years post-LM\n76.5% POD18 vs 97.8% NoPOD18"}}}
      ]
    },
    {
      "width": 110, "height": 70,
      "title": "24-month LM",
      "layer": [
        {"data": {"name": "b24"}, "transform": [{"filter": "datum.g === 'POD24 pts'"}],
         "mark": {"type": "area", "interpolate": "step-after", "color": "#dfb0b0"},
         "encoding": {
           "x": {"field": "t", "type": "quantitative", "title": "Years Post-LM Cut-Off", "scale": {"domain": [-0.05, 3.166], "nice": false, "zero": false}, "axis": {"values": [0, 1, 2, 3]}},
           "y": {"field": "lo", "type": "quantitative", "title": "Survival Probability", "scale": {"domain": [-0.1, 1.03], "nice": false, "zero": false}, "axis": {"values": [0, 0.2, 0.4, 0.6, 0.8, 1], "format": ".1f"}},
           "y2": {"field": "hi"}}},
        {"data": {"name": "b24"}, "transform": [{"filter": "datum.g === 'NoPOD24 pts'"}],
         "mark": {"type": "area", "interpolate": "step-after", "color": "#c2c8e8"},
         "encoding": {"x": {"field": "t", "type": "quantitative", "title": "Years Post-LM Cut-Off"}, "y": {"field": "lo", "type": "quantitative", "title": "Survival Probability"}, "y2": {"field": "hi"}}},
        {"data": {"name": "l24"}, "transform": [{"filter": "datum.g === 'POD24 pts'"}],
         "mark": {"type": "line", "interpolate": "step-after", "strokeWidth": 0.8},
         "encoding": {"x": {"field": "t", "type": "quantitative", "title": "Years Post-LM Cut-Off"}, "y": {"field": "s", "type": "quantitative", "title": "Survival Probability"},
           "color": {"field": "g", "type": "nominal", "scale": {"domain": ["NoPOD24 pts", "POD24 pts", "Censored"], "range": ["#27348b", "#8b2b2b", "#000000"]},
             "legend": {"orient": "none", "legendX": 2, "legendY": 54, "title": null, "symbolType": "stroke", "symbolSize": 16, "symbolStrokeWidth": 0.8, "labelFontSize": 4.5, "labelOffset": 2, "rowPadding": 0.3, "padding": 0,
               "encode": {"symbols": {"update": {"shape": {"signal": "datum.value === 'Censored' ? 'M-0.6,0H0.6M0,-0.6V0.6' : 'M-1,0H1'"}}}}}}}},
        {"data": {"name": "l24"}, "transform": [{"filter": "datum.g === 'NoPOD24 pts'"}],
         "mark": {"type": "line", "interpolate": "step-after", "strokeWidth": 1.4},
         "encoding": {"x": {"field": "t", "type": "quantitative", "title": "Years Post-LM Cut-Off"}, "y": {"field": "s", "type": "quantitative", "title": "Survival Probability"}, "color": {"field": "g", "type": "nominal"}}},
        {"data": {"name": "c24"},
         "mark": {"type": "point", "shape": "M-1,0H1M0,-1V1", "size": 5, "strokeWidth": 0.5, "opacity": 1},
         "encoding": {"x": {"field": "t", "type": "quantitative", "title": "Years Post-LM Cut-Off"}, "y": {"field": "s", "type": "quantitative", "title": "Survival Probability"}, "color": {"field": "g", "type": "nominal"}}},
        {"data": {"values": [{}]},
         "mark": {"type": "text", "align": "left", "baseline": "top", "fontSize": 4.4, "lineBreak": "\n", "lineHeight": 5.2},
         "encoding": {"x": {"datum": 1.1}, "y": {"datum": 0.086}, "text": {"value": "OS at 2 years post-LM\n82.7% POD24 vs 98.2% NoPOD24"}}}
      ]
    },
    {
      "width": 238, "height": 70,
      "layer": [
        {"data": {"name": "t2rows"}, "mark": {"type": "rect", "fill": "#ffffff", "stroke": "#9a9a9a", "strokeWidth": 0.6},
         "encoding": {"x": {"datum": -0.5, "scale": {"domain": [-0.5, 0.5, 1.5, 2.5], "range": [0, 110, 174, 238], "nice": false, "zero": false}, "axis": null}, "x2": {"datum": 2.5},
           "y": {"field": "r0", "type": "quantitative", "scale": {"domain": [-2, -1.5, -0.5, 0.5, 1.5, 5.5], "range": [-3.5, 1.5, 13.5, 34.5, 55.5, 100.5], "nice": false, "zero": false}, "axis": null}, "y2": {"field": "r1"}}},
        {"data": {"name": "t2cols"}, "mark": {"type": "rule", "stroke": "#9a9a9a", "strokeWidth": 0.6},
         "encoding": {"x": {"field": "c", "type": "quantitative"}, "y": {"field": "r0", "type": "quantitative"}, "y2": {"field": "r1"}}},
        {"data": {"values": [{}]}, "mark": {"type": "text", "font": "Lato", "fontSize": 5, "fontWeight": "bold", "align": "left", "dx": 3, "color": "#222"},
         "encoding": {"x": {"datum": -0.5}, "y": {"datum": -2}, "text": {"value": "Table 2."}}},
        {"data": {"values": [{}]}, "mark": {"type": "text", "font": "Lato", "fontSize": 5, "align": "left", "dx": 21.5, "color": "#222"},
         "encoding": {"x": {"datum": -0.5}, "y": {"datum": -2}, "text": {"value": "PFS and POD Events at 24 Months by Treatment Arm"}}},
        {"data": {"name": "t2headC"}, "mark": {"type": "text", "font": "Lato", "fontSize": 5, "fontWeight": "bold", "color": "#222"},
         "encoding": {"x": {"field": "c", "type": "quantitative"}, "y": {"field": "r", "type": "quantitative"}, "text": {"field": "text"}}},
        {"data": {"name": "t2bodyL"}, "mark": {"type": "text", "font": "Lato", "fontSize": 5, "align": "left", "dx": 3, "lineBreak": "\n", "lineHeight": 7, "color": "#222"},
         "encoding": {"x": {"datum": -0.5}, "y": {"field": "r", "type": "quantitative"}, "text": {"field": "text"}}},
        {"data": {"name": "t2bodyI"}, "mark": {"type": "text", "font": "Lato", "fontSize": 5, "align": "left", "dx": 8, "color": "#222"},
         "encoding": {"x": {"datum": -0.5}, "y": {"field": "r", "type": "quantitative"}, "text": {"field": "text"}}},
        {"data": {"name": "t2bodyC"}, "mark": {"type": "text", "font": "Lato", "fontSize": 5, "lineBreak": "\n", "lineHeight": 7, "color": "#222"},
         "encoding": {"x": {"field": "c", "type": "quantitative"}, "y": {"field": "r", "type": "quantitative"}, "text": {"field": "text"}}}
      ]
    },
    {
      "width": 112, "height": 24,
      "layer": [
        {"data": {"name": "r18"}, "mark": {"type": "text", "fontSize": 3},
         "encoding": {"x": {"field": "t", "type": "quantitative", "scale": {"domain": [-0.101, 4.086], "nice": false, "zero": false}, "axis": null},
           "y": {"field": "row", "type": "nominal", "scale": {"domain": ["hdr", "a", "b", "g", "foot"], "paddingInner": 0, "paddingOuter": 0}, "axis": null},
           "text": {"field": "n"}}},
        {"data": {"values": [{}]}, "mark": {"type": "text", "fontSize": 3, "align": "left"},
         "encoding": {"x": {"datum": -0.67}, "y": {"datum": "hdr"}, "text": {"value": "No. of Patients at Risk"}}},
        {"data": {"values": [{}]}, "mark": {"type": "text", "fontSize": 4, "color": "#27348b"},
         "encoding": {"x": {"datum": -0.38}, "y": {"datum": "a"}, "text": {"value": "—"}}},
        {"data": {"values": [{}]}, "mark": {"type": "text", "fontSize": 4, "color": "#8b2b2b"},
         "encoding": {"x": {"datum": -0.38}, "y": {"datum": "b"}, "text": {"value": "—"}}},
        {"data": {"values": [{}]}, "mark": {"type": "text", "fontSize": 3.2, "align": "left"},
         "encoding": {"x": {"datum": -0.66}, "y": {"datum": "foot"}, "text": {"value": "LM, landmark"}}}
      ]
    },
    {
      "width": 110, "height": 14,
      "layer": [
        {"data": {"name": "r24"}, "mark": {"type": "text", "fontSize": 3},
         "encoding": {"x": {"field": "t", "type": "quantitative", "scale": {"domain": [-0.05, 3.166], "nice": false, "zero": false}, "axis": null},
           "y": {"field": "row", "type": "nominal", "scale": {"domain": ["hdr", "a", "b"], "paddingInner": 0, "paddingOuter": 0}, "axis": null},
           "text": {"field": "n"}}},
        {"data": {"values": [{}]}, "mark": {"type": "text", "fontSize": 3, "align": "left"},
         "encoding": {"x": {"datum": -0.53}, "y": {"datum": "hdr"}, "text": {"value": "No. of Patients at Risk"}}},
        {"data": {"values": [{}]}, "mark": {"type": "text", "fontSize": 4, "color": "#27348b"},
         "encoding": {"x": {"datum": -0.3}, "y": {"datum": "a"}, "text": {"value": "—"}}},
        {"data": {"values": [{}]}, "mark": {"type": "text", "fontSize": 4, "color": "#8b2b2b"},
         "encoding": {"x": {"datum": -0.3}, "y": {"datum": "b"}, "text": {"value": "—"}}}
      ]
    }
  ]
}
